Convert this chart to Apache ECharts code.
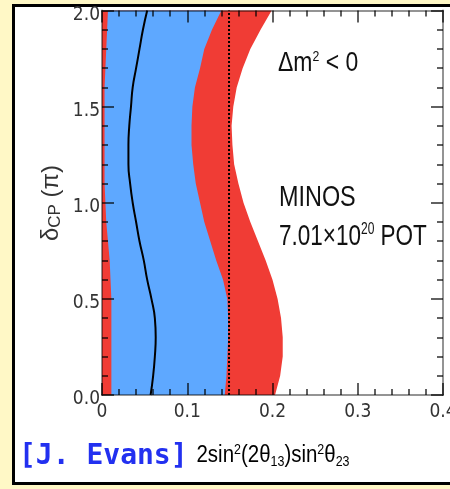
<!DOCTYPE html>
<html>
<head>
<meta charset="utf-8">
<title>MINOS δCP vs 2sin²(2θ13)sin²θ23</title>
<script src="https://cdn.jsdelivr.net/npm/echarts@6/dist/echarts.min.js"></script>
<style>
  html, body { margin: 0; padding: 0; background: #FFF8C6; overflow: hidden; }
  #chart { width: 450px; height: 489px; }
</style>
</head>
<body>
<div id="chart"></div>
<script>
// δCP values (in units of π) at which the contours are sampled
const deltaCP = [0.0, 0.1, 0.2, 0.3, 0.4, 0.5, 0.6, 0.7, 0.8, 0.9, 1.0,
                 1.1, 1.2, 1.3, 1.4, 1.5, 1.6, 1.7, 1.8, 1.9, 2.0];

// 90% C.L. allowed region, upper edge
const outerUpper = [0.203, 0.209, 0.212, 0.212, 0.210, 0.206, 0.200, 0.192, 0.183, 0.174, 0.166,
                    0.160, 0.155, 0.153, 0.152, 0.154, 0.158, 0.165, 0.174, 0.186, 0.199];
const outerLower = [0, 0, 0, 0, 0, 0, 0, 0, 0, 0, 0,
                    0, 0, 0, 0, 0, 0, 0, 0, 0, 0];

// 68% C.L. allowed region, edges
const innerUpper = [0.144, 0.146, 0.147, 0.148, 0.148, 0.147, 0.142, 0.134, 0.127, 0.120, 0.115,
                    0.110, 0.107, 0.105, 0.105, 0.106, 0.109, 0.115, 0.120, 0.129, 0.140];
const innerLower = [0.011, 0.011, 0.011, 0.011, 0.011, 0.011, 0.010, 0.009, 0.007, 0.005, 0.004,
                    0.003, 0.003, 0.003, 0.003, 0.003, 0.003, 0.004, 0.005, 0.006, 0.007];

// best fit
const bestFit = [0.057, 0.060, 0.062, 0.063, 0.062, 0.058, 0.053, 0.049, 0.044, 0.040, 0.036,
                 0.033, 0.031, 0.031, 0.032, 0.034, 0.036, 0.040, 0.044, 0.048, 0.053];

// CHOOZ limit
const choozLimit = 0.149;

const xTicks = { min: 0, max: 0.4, step: 0.1 };
const yTicks = { min: 0, max: 2.0, step: 0.5 };

const TICK_FONT = "'DejaVu Sans Condensed', 'Liberation Sans', sans-serif";
const TEXT_FONT = "'Liberation Sans', Arial, sans-serif";

function bandPolygon(upper, lower, color) {
  return function (params, api) {
    const pts = [];
    for (let i = 0; i < deltaCP.length; i++) pts.push(api.coord([upper[i], deltaCP[i]]));
    for (let i = deltaCP.length - 1; i >= 0; i--) pts.push(api.coord([lower[i], deltaCP[i]]));
    return { type: 'polygon', shape: { points: pts }, style: { fill: color, stroke: null } };
  };
}

const tickStyle = { color: 'rgba(0,0,0,0.62)', width: 2 };
const lineStyleAxis = { color: 'rgba(0,0,0,0.42)', width: 2 };

function makeX(position, showLabels) {
  return {
    type: 'value', position: position,
    min: xTicks.min, max: xTicks.max, interval: xTicks.step,
    z: 10,
    axisLine: { show: true, onZero: false, lineStyle: lineStyleAxis },
    axisTick: { show: true, inside: true, length: 12, lineStyle: tickStyle },
    minorTick: { show: true, splitNumber: 5, length: 6, lineStyle: tickStyle },
    splitLine: { show: false },
    axisLabel: {
      show: showLabels, margin: 8, color: '#333', fontFamily: TICK_FONT, fontSize: 19,
      hideOverlap: false,
      formatter: v => (v === 0 ? '0' : v.toFixed(1))
    }
  };
}
function makeY(position, showLabels) {
  return {
    type: 'value', position: position,
    min: yTicks.min, max: yTicks.max, interval: yTicks.step,
    z: 10,
    axisLine: { show: true, onZero: false, lineStyle: lineStyleAxis },
    axisTick: { show: true, inside: true, length: 12, lineStyle: tickStyle },
    minorTick: { show: true, splitNumber: 5, length: 6, lineStyle: tickStyle },
    splitLine: { show: false },
    axisLabel: {
      show: showLabels, margin: 2, color: '#333', fontFamily: TICK_FONT, fontSize: 19,
      verticalAlign: 'top', lineHeight: 9, hideOverlap: false,
      formatter: v => v.toFixed(1)
    }
  };
}

const chart = echarts.init(document.getElementById('chart'), null, { renderer: 'canvas' });

chart.setOption({
  backgroundColor: '#FFF8C6',
  animation: false,
  grid: { left: 102, right: 7, top: 10.5, bottom: 94, containLabel: false, outerBoundsMode: 'none' },
  xAxis: [makeX('bottom', true), makeX('top', false)],
  yAxis: [makeY('left', true), makeY('right', false)],
  graphic: [
    // white panel with a black frame on the left, top and bottom
    { type: 'rect', z: -100, silent: true,
      shape: { x: 13.5, y: 5.5, width: 440, height: 478 },
      style: { fill: '#ffffff', stroke: null } },
    { type: 'polyline', z: -99, silent: true,
      shape: { points: [[452, 5.5], [13.5, 5.5], [13.5, 483.5], [452, 483.5]] },
      style: { fill: null, stroke: '#000000', lineWidth: 3 } },
    { type: 'text', z: 100, x: 51, y: 203, rotation: Math.PI / 2,
      style: {
        text: '{a|δ}{s|CP}{a| (π)}', align: 'center', verticalAlign: 'middle',
        rich: {
          a: { fontFamily: TEXT_FONT, fontSize: 24, fill: '#333' },
          s: { fontFamily: TEXT_FONT, fontSize: 17, fill: '#333', verticalAlign: 'bottom', padding: [9, 0, 0, 0] }
        }
      } },
    { type: 'text', z: 100, x: 273, y: 456, scaleX: 0.89,
      style: {
        text: '{a|2sin}{p|2}{a|(2θ}{b|13}{a|)sin}{p|2}{a|θ}{b|23}',
        align: 'center', verticalAlign: 'middle',
        rich: {
          a: { fontFamily: TEXT_FONT, fontSize: 23, fill: '#000' },
          p: { fontFamily: TEXT_FONT, fontSize: 14, fill: '#000', verticalAlign: 'top', padding: [0, 0, 12, 0] },
          b: { fontFamily: TEXT_FONT, fontSize: 14, fill: '#000', verticalAlign: 'bottom', padding: [12, 0, 0, 0] }
        }
      } },
    { type: 'text', z: 100, x: 19, y: 457,
      style: {
        text: '[J. Evans]', align: 'left', verticalAlign: 'middle',
        fontFamily: "'DejaVu Sans Mono', monospace", fontWeight: 'bold', fontSize: 28, fill: '#2230F0'
      } },
    { type: 'text', z: 100, x: 278, y: 63, scaleX: 0.82,
      style: {
        text: '{a|Δm}{p|2}{a| < 0}', align: 'left', verticalAlign: 'middle',
        rich: {
          a: { fontFamily: TEXT_FONT, fontSize: 28, fill: '#111' },
          p: { fontFamily: TEXT_FONT, fontSize: 15, fill: '#111', verticalAlign: 'top', padding: [0, 0, 12, 0] }
        }
      } },
    { type: 'text', z: 100, x: 279, y: 198, scaleX: 0.78,
      style: {
        text: 'MINOS', align: 'left', verticalAlign: 'middle',
        fontFamily: TEXT_FONT, fontSize: 30, fill: '#111'
      } },
    { type: 'text', z: 100, x: 279, y: 237, scaleX: 0.75,
      style: {
        text: '{a|7.01×10}{p|20}{a| POT}', align: 'left', verticalAlign: 'middle',
        rich: {
          a: { fontFamily: TEXT_FONT, fontSize: 30, fill: '#111' },
          p: { fontFamily: TEXT_FONT, fontSize: 16, fill: '#111', verticalAlign: 'top', padding: [0, 0, 13, 0] }
        }
      } }
  ],
  series: [
    { type: 'custom', name: '90% C.L.', renderItem: bandPolygon(outerUpper, outerLower, '#F03C35'),
      data: [0], z: 1, silent: true },
    { type: 'custom', name: '68% C.L.', renderItem: bandPolygon(innerUpper, innerLower, '#5EA8FF'),
      data: [0], z: 2, silent: true },
    { type: 'line', name: 'CHOOZ', data: [[choozLimit, yTicks.min], [choozLimit, yTicks.max]],
      showSymbol: false, z: 4, lineStyle: { color: '#000', width: 2, type: [2, 2] } },
    { type: 'line', name: 'best fit', data: bestFit.map((x, i) => [x, deltaCP[i]]),
      smooth: true, showSymbol: false, z: 5, lineStyle: { color: '#000', width: 2 } }
  ]
});
</script>
</body>
</html>
